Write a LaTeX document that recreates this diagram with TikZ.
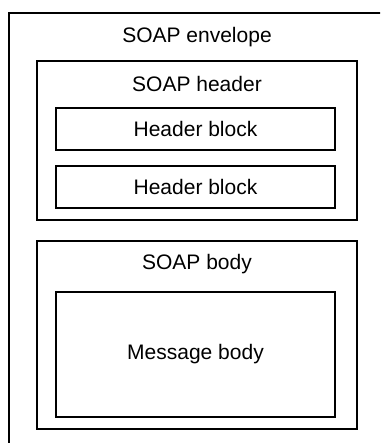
\documentclass[tikz,border=0pt]{standalone}
\usepackage{fontspec}
\setmainfont{Liberation Sans}
\begin{document}
\begin{tikzpicture}[x=1pt,y=-1pt,
  box/.style={draw=black,line width=1.4pt,rectangle,inner sep=0pt,fill=white},
  lbl/.style={font=\fontsize{21}{25}\selectfont,inner sep=0pt,anchor=center}]
\useasboundingbox (0,0) rectangle (380,443);
\clip (0,0) rectangle (380,443);
\fill[white] (0,0) rectangle (380,443);
\node[box,minimum width=390pt,minimum height=450pt] (env) at (204,238) {};
\node[lbl] (envl) at (197,37) {SOAP envelope};
\node[box,minimum width=320pt,minimum height=159pt] (hdr) at (197,140.5) {};
\node[lbl] (hdrl) at (197,84) {SOAP header};
\node[box,minimum width=279pt,minimum height=42pt,lbl] (hb1) at (195.5,129) {Header block};
\node[box,minimum width=279pt,minimum height=42pt,lbl] (hb2) at (195.5,187) {Header block};
\node[box,minimum width=320pt,minimum height=188pt] (body) at (197,335) {};
\node[lbl] (bodyl) at (197,264) {SOAP body};
\node[box,minimum width=279pt,minimum height=125pt,lbl] (msg) at (195.5,354.5) {Message body};
\end{tikzpicture}
\end{document}
